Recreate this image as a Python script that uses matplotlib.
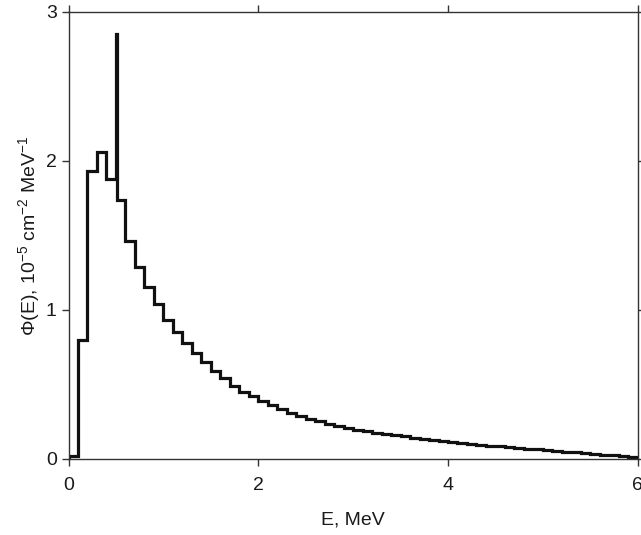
import numpy as np
import matplotlib
matplotlib.use("Agg")
import matplotlib.pyplot as plt

plt.rcParams['font.family'] = ['Liberation Sans', 'DejaVu Sans']
plt.rcParams['mathtext.fontset'] = 'custom'
plt.rcParams['mathtext.rm'] = 'Liberation Sans'
plt.rcParams['mathtext.it'] = 'Liberation Sans:italic'

# Histogram: 0.1 MeV bins from 0 to 6 MeV (values in 1e-5 cm^-2 MeV^-1)
bin_lo = 0.0
bin_hi = 6.0
flux = [0.02, 0.80, 1.93, 2.06, 1.88, 1.74, 1.46, 1.29, 1.15, 1.04,
        0.93, 0.85, 0.775, 0.71, 0.65, 0.59, 0.54, 0.49, 0.45, 0.42,
        0.39, 0.36, 0.335, 0.31, 0.29, 0.27, 0.252, 0.236, 0.22, 0.206,
        0.195, 0.185, 0.176, 0.167, 0.158, 0.150, 0.142, 0.134, 0.127, 0.120,
        0.113, 0.106, 0.100, 0.094, 0.088, 0.082, 0.077, 0.072, 0.067, 0.062,
        0.057, 0.052, 0.047, 0.042, 0.037, 0.032, 0.027, 0.022, 0.016, 0.010]
# Annihilation line
spike_E = 0.511
spike_height = 2.85

x_ticks = [0, 2, 4, 6]
y_ticks = [0, 1, 2, 3]

edges = list(np.linspace(bin_lo, bin_hi, len(flux) + 1))
vals = list(flux)
# insert the narrow spike at the start of the bin that contains it
k = int(np.searchsorted(edges, spike_E)) - 1
edges = edges[:k + 1] + [spike_E] + edges[k + 1:]
vals = vals[:k] + [spike_height] + vals[k:]

fig = plt.figure(figsize=(6.41, 5.35), dpi=100)
ax = fig.add_axes([0.1069, 0.1426, 0.888, 0.835])

st = ax.stairs(vals, edges, color='#111111', linewidth=2.3, baseline=0)
st.set_joinstyle('miter')
st.set_capstyle('butt')

ax.set_xlim(0, 6)
ax.set_ylim(0, 3)
ax.set_xticks(x_ticks)
ax.set_yticks(y_ticks)
ax.set_xticklabels([str(v) for v in x_ticks])
ax.set_yticklabels([str(v) for v in y_ticks])

for s in ax.spines.values():
    s.set_linewidth(1.0)
    s.set_color('#333333')

ax.tick_params(axis='both', which='both', direction='out', length=5, width=1.0,
               color='#333333', labelsize=14, labelcolor='#1a1a1a',
               top=True, right=True, labeltop=False, labelright=False)
ax.tick_params(axis='x', pad=8.5)
ax.tick_params(axis='y', pad=3.5)

ax.set_xlabel('E, MeV', fontsize=14, color='#1a1a1a', labelpad=12)
ax.set_ylabel(r'$\Phi$(E), 10$^{-5}$ cm$^{-2}$ MeV$^{-1}$', fontsize=14,
              color='#1a1a1a', labelpad=3)

fig.savefig('out.png', dpi=100)
